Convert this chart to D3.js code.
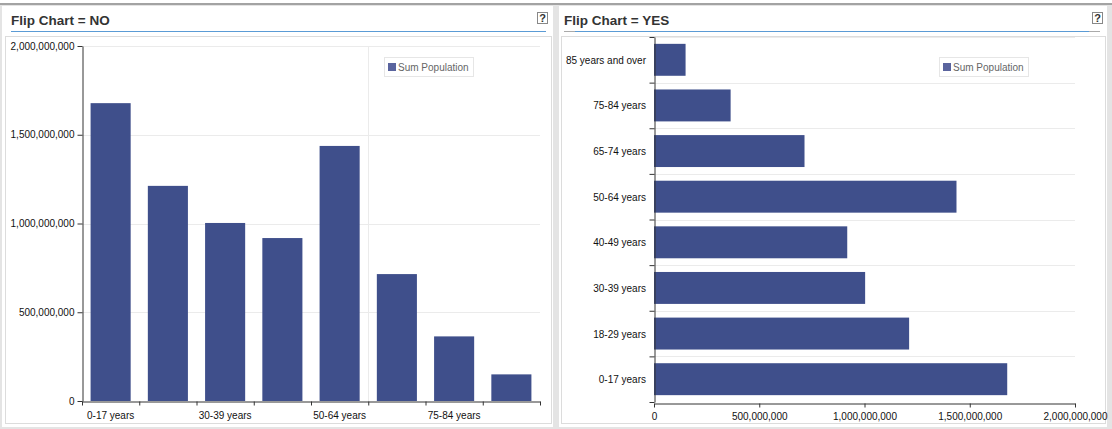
<!DOCTYPE html>
<html lang="en">
<head>
  <meta charset="UTF-8">
  <title>Flip Chart</title>
  <script src="https://d3js.org/d3.v7.min.js"></script>
  <style>
    html, body { margin: 0; padding: 0; background: #ffffff; }
    svg { display: block; font-family: 'Liberation Sans', Arial, sans-serif; }
    .tick text { font-size: 10px; fill: #111; }
    .domain, .tick line { stroke: #333; }
    .grid line { stroke: #ebebeb; }
    .title { font-size: 13.5px; font-weight: bold; fill: #333; }
    .legend-text { font-size: 10px; fill: #666; }
  </style>
</head>
<body>
  <svg width="1112" height="429"></svg>

  <script>
    // Data
    const ageGroups = ["0-17 years", "18-29 years", "30-39 years", "40-49 years",
                       "50-64 years", "65-74 years", "75-84 years", "85 years and over"];
    const population = [1678000000, 1212000000, 1003000000, 918000000,
                        1437000000, 715000000, 364000000, 150000000];
    const valueTicks = [0, 500000000, 1000000000, 1500000000, 2000000000];
    const panelTitles = ["Flip Chart = NO", "Flip Chart = YES"];
    const seriesName = "Sum Population";

    const data = ageGroups.map((g, i) => ({group: g, value: population[i]}));
    const barColor = "#3f4f8b";
    const fmt = d3.format(",");

    const svg = d3.select("svg");

    // page frame
    svg.append("rect").attr("x", 0).attr("y", 0).attr("width", 1112).attr("height", 429).attr("fill", "#e4e4e4");
    svg.append("rect").attr("x", 0).attr("y", 0).attr("width", 1112).attr("height", 3).attr("fill", "#fff");
    svg.append("rect").attr("x", 0).attr("y", 3).attr("width", 1112).attr("height", 2).attr("fill", "#a3a3a3");

    // panel boxes
    const panels = [
      {x: 2, w: 551, inner: [5, 551], help: 537, line: [11, 546]},
      {x: 559, w: 548, inner: [561, 1105], help: 1092, line: [564, 1100]}
    ];
    panels.forEach((p, i) => {
      svg.append("rect").attr("x", p.x).attr("y", 6).attr("width", p.w).attr("height", 421)
        .attr("fill", "#fff");
      svg.append("rect").attr("x", p.inner[0] + 0.5).attr("y", 36.5)
        .attr("width", p.inner[1] - p.inner[0]).attr("height", 387)
        .attr("fill", "#fff").attr("stroke", "#dcdcdc");
      svg.append("text").attr("class", "title").attr("x", p.line[0]).attr("y", 25).text(panelTitles[i]);
      svg.append("line").attr("x1", p.line[0]).attr("x2", p.line[1]).attr("y1", 31.5).attr("y2", 31.5)
        .attr("stroke", "#aaa");
      svg.append("line").attr("x1", p.line[0] + (i ? 11 : 0)).attr("x2", p.line[1] - (i ? 11 : 0))
        .attr("y1", 31.5).attr("y2", 31.5).attr("stroke", "#5b9bd5");
      svg.append("rect").attr("x", p.help + 0.5).attr("y", 12.5).attr("width", 10).attr("height", 11)
        .attr("fill", "#fff").attr("stroke", "#888");
      svg.append("text").attr("x", p.help + 5.5).attr("y", 22).attr("text-anchor", "middle")
        .attr("font-size", "11px").attr("font-weight", "bold").attr("fill", "#333").text("?");
    });

    function legend(x, y) {
      const g = svg.append("g").attr("transform", `translate(${x},${y})`);
      g.append("rect").attr("x", 0.5).attr("y", 0.5).attr("width", 89).attr("height", 19)
        .attr("fill", "#fff").attr("stroke", "#e6e6e6");
      g.append("rect").attr("x", 4).attr("y", 6).attr("width", 8).attr("height", 8).attr("fill", "#5a649e");
      g.append("text").attr("class", "legend-text").attr("x", 14).attr("y", 14).text(seriesName);
    }

    // ---------- Left: vertical bars ----------
    const xL = d3.scaleBand().domain(ageGroups).range([82, 540]).paddingInner(0.3).paddingOuter(0.15);
    const yL = d3.scaleLinear().domain([0, 2000000000]).range([401, 46]);
    const edgeL = d3.scaleLinear().domain([0, ageGroups.length]).range([82, 540]);

    svg.append("g").attr("class", "grid")
      .selectAll("line").data(valueTicks.slice(1)).join("line")
      .attr("x1", 82).attr("x2", 540)
      .attr("y1", d => Math.round(yL(d)) + 0.5).attr("y2", d => Math.round(yL(d)) + 0.5);
    svg.append("line").attr("class", "grid")
      .attr("x1", Math.round(edgeL(5)) + 0.5).attr("x2", Math.round(edgeL(5)) + 0.5)
      .attr("y1", 46).attr("y2", 401).attr("stroke", "#ebebeb");

    svg.append("g").selectAll("rect").data(data).join("rect")
      .attr("x", d => xL(d.group)).attr("width", xL.bandwidth())
      .attr("y", d => yL(d.value)).attr("height", d => yL(0) - yL(d.value))
      .attr("fill", barColor);

    svg.append("g").attr("transform", "translate(82.5,0)")
      .call(d3.axisLeft(yL).tickValues(valueTicks).tickFormat(fmt).tickSize(5).tickSizeOuter(0).tickPadding(3));

    svg.append("g").attr("transform", "translate(0,401.5)")
      .call(d3.axisBottom(edgeL).ticks(ageGroups.length).tickFormat("").tickSize(4).tickSizeOuter(0));

    svg.append("g").selectAll("text").data(ageGroups.filter((d, i) => i % 2 === 0)).join("text")
      .attr("x", d => xL(d) + xL.bandwidth() / 2).attr("y", 419)
      .attr("text-anchor", "middle").attr("font-size", "10px").attr("fill", "#111").text(d => d);

    legend(384, 57);

    // ---------- Right: horizontal bars ----------
    const yR = d3.scaleBand().domain(ageGroups.slice().reverse()).range([37, 402]).paddingInner(0.3).paddingOuter(0.15);
    const xR = d3.scaleLinear().domain([0, 2000000000]).range([654, 1075]);
    const edgeR = d3.scaleLinear().domain([0, ageGroups.length]).range([37, 402]);

    svg.append("g").attr("class", "grid")
      .selectAll("line").data(d3.range(ageGroups.length)).join("line")
      .attr("x1", 654).attr("x2", 1075)
      .attr("y1", d => Math.round(edgeR(d)) + 0.5).attr("y2", d => Math.round(edgeR(d)) + 0.5);

    svg.append("g").selectAll("rect").data(data).join("rect")
      .attr("y", d => yR(d.group)).attr("height", yR.bandwidth())
      .attr("x", xR(0)).attr("width", d => xR(d.value) - xR(0))
      .attr("fill", barColor);

    svg.append("g").attr("transform", "translate(654.5,0)")
      .call(d3.axisLeft(edgeR).ticks(ageGroups.length).tickFormat("").tickSize(5).tickSizeOuter(0));

    svg.append("g").selectAll("text").data(ageGroups).join("text")
      .attr("x", 646).attr("y", d => yR(d) + yR.bandwidth() / 2 + 4)
      .attr("text-anchor", "end").attr("font-size", "10px").attr("fill", "#111").text(d => d);

    svg.append("g").attr("transform", "translate(0,403.5)")
      .call(d3.axisBottom(xR).tickValues(valueTicks).tickFormat(fmt).tickSize(4).tickSizeOuter(0).tickPadding(5));

    legend(939, 57);
  </script>
</body>
</html>
